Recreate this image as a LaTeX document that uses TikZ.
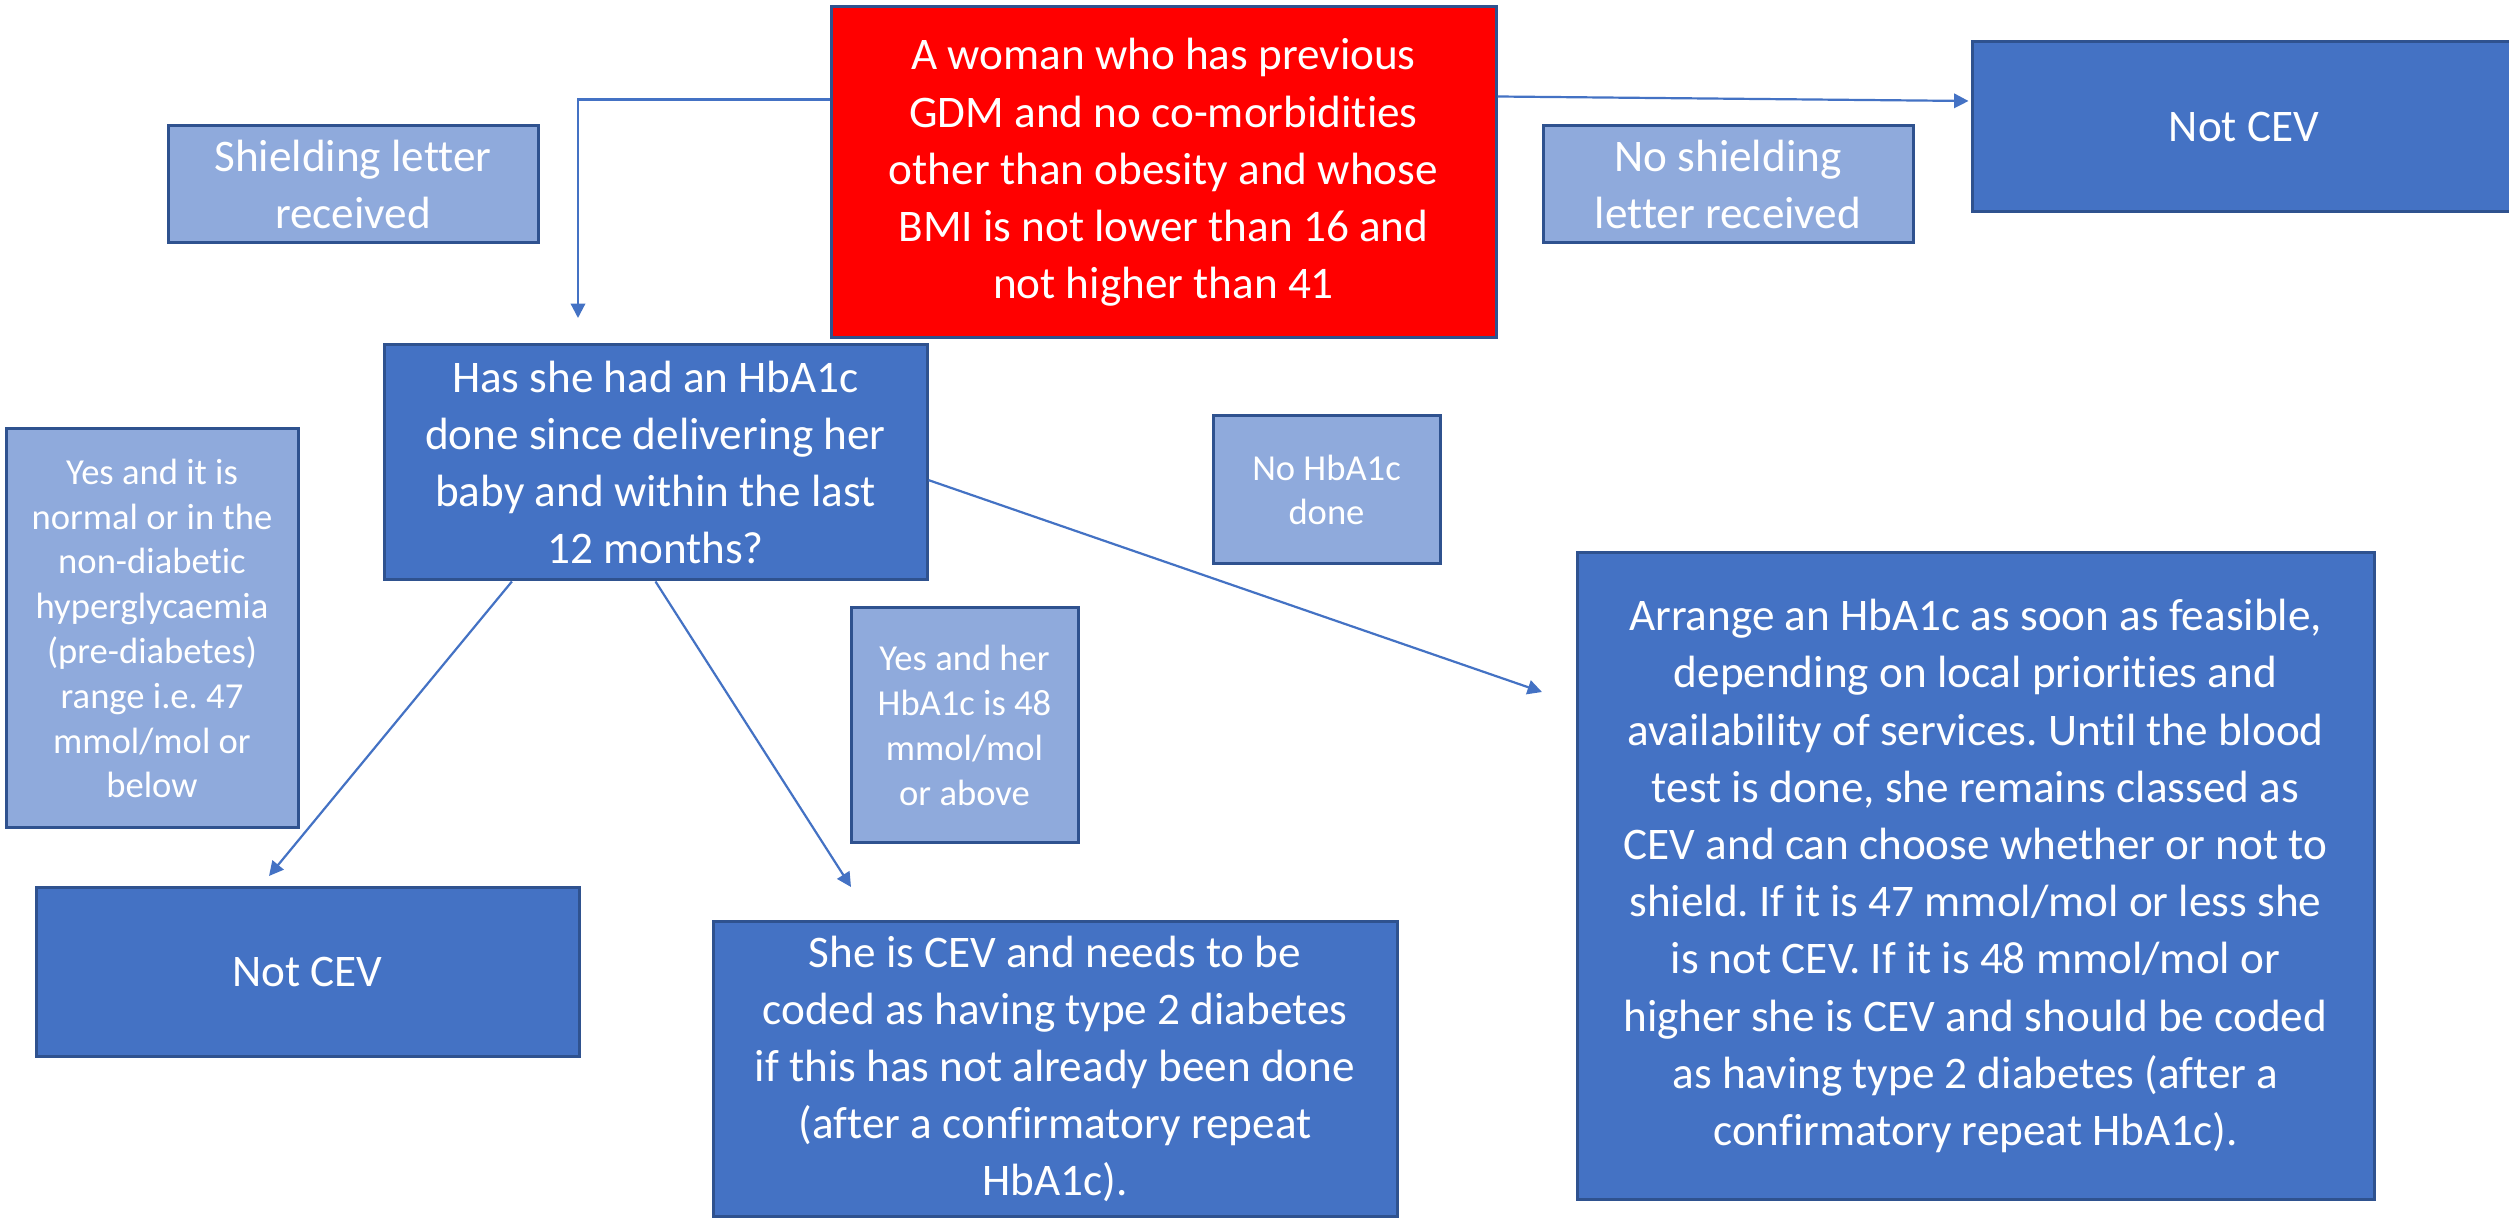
\documentclass[tikz,border=0pt]{standalone}
\usepackage{fontspec}
\setmainfont{Carlito}[Ligatures={TeX,NoCommon}]
\usetikzlibrary{arrows.meta}
\frenchspacing
\definecolor{boxblue}{HTML}{4472C4}
\definecolor{boxlight}{HTML}{8FAADC}
\definecolor{boxedge}{HTML}{2F528F}
\definecolor{alertred}{HTML}{FF0000}
\tikzset{
  basebox/.style={draw=boxedge, line width=0.75pt, text=white, align=center,
    inner sep=0pt, font=\fontsize{11.3pt}{14.3pt}\selectfont},
  darkbox/.style={basebox, fill=boxblue},
  redbox/.style={basebox, fill=alertred},
  lightbox/.style={basebox, fill=boxlight},
  smalltext/.style={font=\fontsize{9.15pt}{11.2pt}\selectfont},
  conn/.style={draw=boxblue, line width=0.55pt,
    -{Triangle[length=3.6pt, width=3.6pt]}},
}
\begin{document}
\begin{tikzpicture}[x=0.25pt, y=-0.25pt]
\clip (0,0) rectangle (2509,1218);
\fill[white] (0,0) rectangle (2509,1218);

% starting condition
\node[redbox, minimum width=166.25pt, minimum height=82.75pt] (start) at (1163.5,172.5)
  {A woman who has previous\\GDM and no co-morbidities\\other than obesity and whose\\BMI is not lower than 16 and\\not higher than 41};

% letter branches
\node[lightbox, minimum width=92.5pt, minimum height=29.25pt] (letter) at (353,184.5)
  {Shielding letter\\received};
\node[lightbox, minimum width=92.5pt, minimum height=29.25pt] (noletter) at (1728,184.5)
  {No shielding\\letter received};
\node[darkbox, minimum width=136pt, minimum height=42.5pt] (notcevA) at (2244,127)
  {Not CEV};

% HbA1c question
\node[darkbox, minimum width=135.75pt, minimum height=58.75pt] (question) at (655.5,462.5)
  {Has she had an HbA1c\\done since delivering her\\baby and within the last\\12 months?};

% answer labels
\node[lightbox, smalltext, minimum width=73pt, minimum height=99.75pt] (yeslow) at (152,628.5)
  {Yes and it is\\normal or in the\\non-diabetic\\hyperglycaemia\\(pre-diabetes)\\range i.e. 47\\mmol/mol or\\below};
\node[lightbox, smalltext, minimum width=56.75pt, minimum height=37pt] (notest) at (1326.5,490)
  {No HbA1c\\done};
\node[lightbox, smalltext, minimum width=56.75pt, minimum height=58.75pt] (yeshigh) at (964.5,725.5)
  {Yes and her\\HbA1c is 48\\mmol/mol\\or above};

% outcomes
\node[darkbox, minimum width=135.75pt, minimum height=42.25pt] (notcevB) at (307.5,972.5)
  {Not CEV};
\node[darkbox, minimum width=171pt, minimum height=73.5pt] (cev) at (1055,1069)
  {She is CEV and needs to be\\coded as having type 2 diabetes\\if this has not already been done\\(after a confirmatory repeat\\HbA1c).};
\node[darkbox, minimum width=199.25pt, minimum height=161.5pt] (arrange) at (1975.5,876)
  {Arrange an HbA1c as soon as feasible,\\depending on local priorities and\\availability of services. Until the blood\\test is done, she remains classed as\\CEV and can choose whether or not to\\shield. If it is 47 mmol/mol or less she\\is not CEV. If it is 48 mmol/mol or\\higher she is CEV and should be coded\\as having type 2 diabetes (after a\\confirmatory repeat HbA1c).};

% free arrow ends
\coordinate (toQuestion) at (578,318);
\coordinate (toLow) at (269,876);
\coordinate (toHigh) at (851,887);
\coordinate (toArrange) at (1542,692);

% connectors
\draw[conn] ([yshift=-23.5pt]start.north west) -| (toQuestion);
\draw[conn] ([yshift=-22.75pt]start.north east) -- ([yshift=6.5pt,xshift=-0.5pt]notcevA.west);
\draw[conn] ([xshift=-35.9pt]question.south) -- (toLow);
\draw[conn] (question.south) -- (toHigh);
\draw[conn] ([yshift=-4.4pt]question.east) -- (toArrange);
\end{tikzpicture}
\end{document}
